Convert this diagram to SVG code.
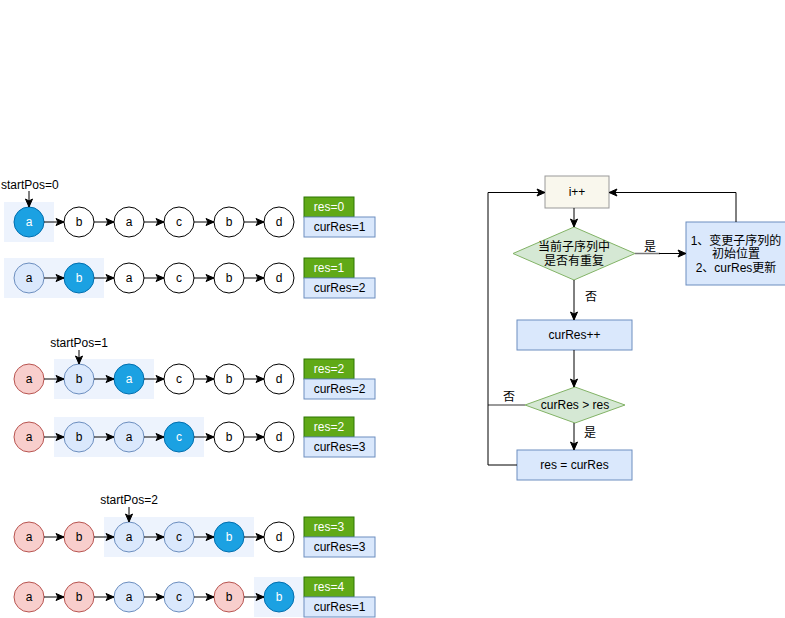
<svg xmlns="http://www.w3.org/2000/svg" width="785" height="618" viewBox="0 0 785 618">
<defs>
<marker id="arr" markerUnits="userSpaceOnUse" markerWidth="10" markerHeight="10" viewBox="0 0 10 10" refX="9" refY="5" orient="auto">
<path d="M1,1.5 L9,5 L1,8.5 L3,5 z" fill="#000" stroke="#000" stroke-width="1"/>
</marker>
<style>
text{font-family:"Liberation Sans","Noto Sans CJK SC",Arial,sans-serif;font-size:12px;fill:#000;text-anchor:middle}
.hl{fill:#edf3fd;stroke:none}
.w{fill:#fff;stroke:#000}
.b{fill:#1ba1e2;stroke:#006eaf}
.lb{fill:#dae8fc;stroke:#6c8ebf}
.p{fill:#f8cecc;stroke:#b85450}
.wt{fill:#fff}
.g{fill:#60a917;stroke:#2d7600}
.ln{fill:none;stroke:#000;stroke-width:1}
.gl{fill:none;stroke:#777;stroke-width:1.5}
.l{text-anchor:start}
</style>
</defs>
<rect width="785" height="618" fill="#fff"/>

<!-- highlight rects -->
<g id="highlights">
<rect class="hl" x="4" y="202" width="50" height="40"/>
<rect class="hl" x="4" y="258" width="100" height="40"/>
<rect class="hl" x="54" y="359" width="100" height="40"/>
<rect class="hl" x="54" y="417" width="150" height="40"/>
<rect class="hl" x="104" y="517" width="150" height="40"/>
<rect class="hl" x="254" y="577" width="50" height="40"/>
</g>

<!-- Row 1 -->
<g id="row1">
<circle class="b" cx="29" cy="222" r="15"/><text class="wt" x="29" y="226">a</text>
<circle class="w" cx="79" cy="222" r="15"/><text x="79" y="226">b</text>
<circle class="w" cx="129" cy="222" r="15"/><text x="129" y="226">a</text>
<circle class="w" cx="179" cy="222" r="15"/><text x="179" y="226">c</text>
<circle class="w" cx="229" cy="222" r="15"/><text x="229" y="226">b</text>
<circle class="w" cx="279" cy="222" r="15"/><text x="279" y="226">d</text>
</g>
<g id="row2">
<circle class="lb" cx="29" cy="278" r="15"/><text x="29" y="282">a</text>
<circle class="b" cx="79" cy="278" r="15"/><text class="wt" x="79" y="282">b</text>
<circle class="w" cx="129" cy="278" r="15"/><text x="129" y="282">a</text>
<circle class="w" cx="179" cy="278" r="15"/><text x="179" y="282">c</text>
<circle class="w" cx="229" cy="278" r="15"/><text x="229" y="282">b</text>
<circle class="w" cx="279" cy="278" r="15"/><text x="279" y="282">d</text>
</g>
<g id="row3">
<circle class="p" cx="29" cy="379" r="15"/><text x="29" y="383">a</text>
<circle class="lb" cx="79" cy="379" r="15"/><text x="79" y="383">b</text>
<circle class="b" cx="129" cy="379" r="15"/><text class="wt" x="129" y="383">a</text>
<circle class="w" cx="179" cy="379" r="15"/><text x="179" y="383">c</text>
<circle class="w" cx="229" cy="379" r="15"/><text x="229" y="383">b</text>
<circle class="w" cx="279" cy="379" r="15"/><text x="279" y="383">d</text>
</g>
<g id="row4">
<circle class="p" cx="29" cy="437" r="15"/><text x="29" y="441">a</text>
<circle class="lb" cx="79" cy="437" r="15"/><text x="79" y="441">b</text>
<circle class="lb" cx="129" cy="437" r="15"/><text x="129" y="441">a</text>
<circle class="b" cx="179" cy="437" r="15"/><text class="wt" x="179" y="441">c</text>
<circle class="w" cx="229" cy="437" r="15"/><text x="229" y="441">b</text>
<circle class="w" cx="279" cy="437" r="15"/><text x="279" y="441">d</text>
</g>
<g id="row5">
<circle class="p" cx="29" cy="537" r="15"/><text x="29" y="541">a</text>
<circle class="p" cx="79" cy="537" r="15"/><text x="79" y="541">b</text>
<circle class="lb" cx="129" cy="537" r="15"/><text x="129" y="541">a</text>
<circle class="lb" cx="179" cy="537" r="15"/><text x="179" y="541">c</text>
<circle class="b" cx="229" cy="537" r="15"/><text class="wt" x="229" y="541">b</text>
<circle class="w" cx="279" cy="537" r="15"/><text x="279" y="541">d</text>
</g>
<g id="row6">
<circle class="p" cx="29" cy="597" r="15"/><text x="29" y="601">a</text>
<circle class="p" cx="79" cy="597" r="15"/><text x="79" y="601">b</text>
<circle class="lb" cx="129" cy="597" r="15"/><text x="129" y="601">a</text>
<circle class="lb" cx="179" cy="597" r="15"/><text x="179" y="601">c</text>
<circle class="p" cx="229" cy="597" r="15"/><text x="229" y="601">b</text>
<circle class="b" cx="279" cy="597" r="15"/><text class="wt" x="279" y="601">b</text>
</g>

<!-- result boxes -->
<g id="results">
<rect class="g" x="304" y="197" width="50" height="20"/><text class="wt" x="329" y="211">res=0</text>
<rect class="lb" x="304" y="217" width="71" height="20"/><text x="339.5" y="231">curRes=1</text>
<rect class="g" x="304" y="258" width="50" height="20"/><text class="wt" x="329" y="272">res=1</text>
<rect class="lb" x="304" y="278" width="71" height="20"/><text x="339.5" y="292">curRes=2</text>
<rect class="g" x="304" y="359" width="50" height="20"/><text class="wt" x="329" y="373">res=2</text>
<rect class="lb" x="304" y="379" width="71" height="20"/><text x="339.5" y="393">curRes=2</text>
<rect class="g" x="304" y="417" width="50" height="20"/><text class="wt" x="329" y="431">res=2</text>
<rect class="lb" x="304" y="437" width="71" height="20"/><text x="339.5" y="451">curRes=3</text>
<rect class="g" x="304" y="517" width="50" height="20"/><text class="wt" x="329" y="531">res=3</text>
<rect class="lb" x="304" y="537" width="71" height="20"/><text x="339.5" y="551">curRes=3</text>
<rect class="g" x="304" y="577" width="50" height="20"/><text class="wt" x="329" y="591">res=4</text>
<rect class="lb" x="304" y="597" width="71" height="20"/><text x="339.5" y="611">curRes=1</text>
</g>

<!-- startPos labels -->
<g id="labels">
<text class="l" x="1" y="189">startPos=0</text>
<text x="79" y="347">startPos=1</text>
<text x="129" y="504">startPos=2</text>
</g>

<!-- flowchart nodes -->
<g id="n-inc">
<rect x="545" y="176" width="64" height="32" fill="#f9f7ed" stroke="#999"/>
<text x="577" y="196">i++</text>
</g>
<g id="n-dup">
<polygon points="574,227 635,253.5 574,280 513,253.5" fill="#d5e8d4" stroke="#82b366"/>
<text x="574" y="251">当前子序列中</text>
<text x="574" y="265">是否有重复</text>
</g>
<g id="n-update">
<rect x="686" y="222" width="100" height="63" fill="#dae8fc" stroke="#6c8ebf"/>
<text x="736" y="245">1、变更子序列的</text>
<text x="736" y="258">初始位置</text>
<text x="736" y="272">2、curRes更新</text>
</g>
<g id="n-curinc">
<rect x="517" y="320" width="115" height="30" fill="#dae8fc" stroke="#6c8ebf"/>
<text x="574.5" y="339">curRes++</text>
</g>
<g id="n-cmp">
<polygon points="575,387 625,405 575,423 525,405" fill="#d5e8d4" stroke="#82b366"/>
<text x="575" y="409">curRes &gt; res</text>
</g>
<g id="n-assign">
<rect x="517" y="450" width="115" height="30" fill="#dae8fc" stroke="#6c8ebf"/>
<text x="574.5" y="469">res = curRes</text>
</g>

<!-- connectors -->
<g id="connectors">
<line class="ln" x1="44" y1="222" x2="64" y2="222" marker-end="url(#arr)"/>
<line class="ln" x1="94" y1="222" x2="114" y2="222" marker-end="url(#arr)"/>
<line class="ln" x1="144" y1="222" x2="164" y2="222" marker-end="url(#arr)"/>
<line class="ln" x1="194" y1="222" x2="214" y2="222" marker-end="url(#arr)"/>
<line class="ln" x1="244" y1="222" x2="264" y2="222" marker-end="url(#arr)"/>
<line class="ln" x1="44" y1="278" x2="64" y2="278" marker-end="url(#arr)"/>
<line class="ln" x1="94" y1="278" x2="114" y2="278" marker-end="url(#arr)"/>
<line class="ln" x1="144" y1="278" x2="164" y2="278" marker-end="url(#arr)"/>
<line class="ln" x1="194" y1="278" x2="214" y2="278" marker-end="url(#arr)"/>
<line class="ln" x1="244" y1="278" x2="264" y2="278" marker-end="url(#arr)"/>
<line class="ln" x1="44" y1="379" x2="64" y2="379" marker-end="url(#arr)"/>
<line class="ln" x1="94" y1="379" x2="114" y2="379" marker-end="url(#arr)"/>
<line class="ln" x1="144" y1="379" x2="164" y2="379" marker-end="url(#arr)"/>
<line class="ln" x1="194" y1="379" x2="214" y2="379" marker-end="url(#arr)"/>
<line class="ln" x1="244" y1="379" x2="264" y2="379" marker-end="url(#arr)"/>
<line class="ln" x1="44" y1="437" x2="64" y2="437" marker-end="url(#arr)"/>
<line class="ln" x1="94" y1="437" x2="114" y2="437" marker-end="url(#arr)"/>
<line class="ln" x1="144" y1="437" x2="164" y2="437" marker-end="url(#arr)"/>
<line class="ln" x1="194" y1="437" x2="214" y2="437" marker-end="url(#arr)"/>
<line class="ln" x1="244" y1="437" x2="264" y2="437" marker-end="url(#arr)"/>
<line class="ln" x1="44" y1="537" x2="64" y2="537" marker-end="url(#arr)"/>
<line class="ln" x1="94" y1="537" x2="114" y2="537" marker-end="url(#arr)"/>
<line class="ln" x1="144" y1="537" x2="164" y2="537" marker-end="url(#arr)"/>
<line class="ln" x1="194" y1="537" x2="214" y2="537" marker-end="url(#arr)"/>
<line class="ln" x1="244" y1="537" x2="264" y2="537" marker-end="url(#arr)"/>
<line class="ln" x1="44" y1="597" x2="64" y2="597" marker-end="url(#arr)"/>
<line class="ln" x1="94" y1="597" x2="114" y2="597" marker-end="url(#arr)"/>
<line class="ln" x1="144" y1="597" x2="164" y2="597" marker-end="url(#arr)"/>
<line class="ln" x1="194" y1="597" x2="214" y2="597" marker-end="url(#arr)"/>
<line class="ln" x1="244" y1="597" x2="264" y2="597" marker-end="url(#arr)"/>
<line class="ln" x1="29" y1="191" x2="29" y2="207" marker-end="url(#arr)"/>
<line class="ln" x1="79" y1="350" x2="79" y2="364" marker-end="url(#arr)"/>
<line class="ln" x1="129" y1="507" x2="129" y2="522" marker-end="url(#arr)"/>

<line class="ln" x1="574" y1="208" x2="574" y2="227" marker-end="url(#arr)"/>
<line class="gl" x1="635" y1="253.5" x2="660" y2="253.5"/>
<line class="ln" x1="659" y1="253.5" x2="686" y2="253.5" marker-end="url(#arr)"/>
<text x="650" y="251">是</text>
<polyline class="ln" points="736,222 736,192.5 609,192.5" marker-end="url(#arr)"/>
<line class="ln" x1="574" y1="280" x2="574" y2="320" marker-end="url(#arr)"/>
<text x="591" y="301">否</text>
<line class="ln" x1="574" y1="350" x2="574" y2="387" marker-end="url(#arr)"/>
<line class="ln" x1="574" y1="423" x2="574" y2="450" marker-end="url(#arr)"/>
<text x="590" y="437">是</text>
<line class="gl" x1="488" y1="405" x2="525" y2="405"/>
<text x="509" y="401">否</text>
<polyline class="ln" points="517,465 488,465 488,192.5 545,192.5" marker-end="url(#arr)"/>
</g>
</svg>
